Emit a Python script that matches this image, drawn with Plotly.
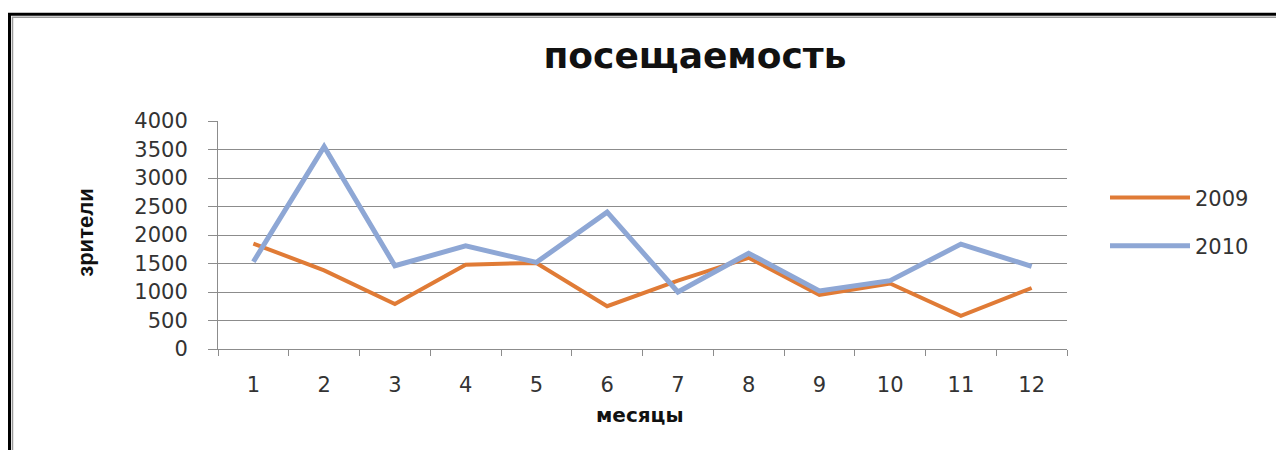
import plotly.graph_objects as go

months = ["1", "2", "3", "4", "5", "6", "7", "8", "9", "10", "11", "12"]
visits_2009 = [1850, 1380, 790, 1480, 1510, 750, 1200, 1600, 950, 1150, 580, 1070]
visits_2010 = [1530, 3550, 1460, 1810, 1520, 2400, 1000, 1680, 1020, 1200, 1840, 1450]
y_ticks = [0, 500, 1000, 1500, 2000, 2500, 3000, 3500, 4000]

W, H = 1276, 450
L, R, T, B = 218, 1067, 121, 349.5


def px_x(px):
    return (px - L) / (R - L)


def px_y(py):
    return (B - py) / (B - T)


fig = go.Figure()
fig.add_trace(go.Scatter(x=months, y=visits_2009, mode="lines", name="2009",
                         legendgroup="a",
                         line=dict(color="#E07B36", width=4)))
fig.add_trace(go.Scatter(x=months, y=visits_2010, mode="lines", name="2010",
                         legendgroup="b",
                         line=dict(color="#8EA7D5", width=5)))

tick_font = dict(family="DejaVu Sans", size=21, color="#333333")

fig.update_layout(
    width=W, height=H,
    margin=dict(l=L, r=W - R, t=T, b=H - B, pad=0),
    paper_bgcolor="white", plot_bgcolor="white",
    title=dict(text="<b>посещаемость</b>", x=px_x(695), xref="paper",
               xanchor="center", y=1 - 55 / H, yanchor="middle",
               font=dict(family="DejaVu Sans", size=36, color="#111111")),
    showlegend=True,
    legend=dict(x=px_x(1105), xanchor="left", y=px_y(222), yanchor="middle",
                font=tick_font, itemwidth=80, tracegroupgap=18,
                traceorder="grouped", bgcolor="rgba(0,0,0,0)", borderwidth=0),
    xaxis=dict(type="category", range=[-0.5, len(months) - 0.5],
               tickson="boundaries", ticks="outside",
               ticklen=6, tickcolor="#8c8c8c", showline=True,
               linecolor="#8c8c8c", linewidth=1, showgrid=False,
               tickfont=tick_font, ticklabelstandoff=17, fixedrange=True),
    yaxis=dict(range=[0, 4000], tickvals=y_ticks, ticks="outside", ticklen=9,
               tickcolor="#8c8c8c", showline=True, linecolor="#8c8c8c",
               linewidth=1, showgrid=True, gridcolor="#8c8c8c", gridwidth=1,
               zeroline=False, tickfont=tick_font, ticklabelstandoff=16,
               fixedrange=True),
    annotations=[
        dict(text="<b>зрители</b>", x=px_x(86), y=px_y(233), xref="paper",
             yref="paper", xanchor="center", yanchor="middle",
             showarrow=False, textangle=-90,
             font=dict(family="Liberation Sans Narrow, Liberation Sans", size=22,
                       color="#111111")),
        dict(text="<b>месяцы</b>", x=px_x(640), y=px_y(416), xref="paper",
             yref="paper", xanchor="center", yanchor="middle",
             showarrow=False,
             font=dict(family="DejaVu Sans", size=20, color="#111111")),
    ],
    shapes=[
        dict(type="rect", xref="paper", yref="paper",
             x0=px_x(9.5), x1=px_x(1300), y0=px_y(14), y1=px_y(480),
             line=dict(color="black", width=3), layer="above"),
        dict(type="rect", xref="paper", yref="paper",
             x0=px_x(12.5), x1=px_x(1300), y0=px_y(17), y1=px_y(480),
             line=dict(color="#9a9a9a", width=1.5), layer="above"),
    ],
)

fig.write_html("out.html", config={"displayModeBar": False},
               post_script="document.body.style.margin='0';document.body.style.padding='0';")
